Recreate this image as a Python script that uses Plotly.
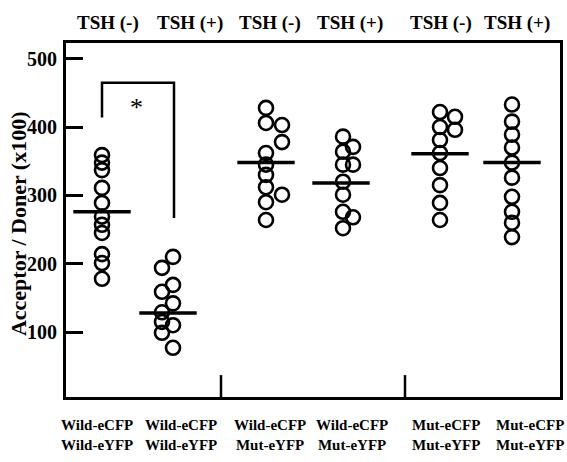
import plotly.graph_objects as go

# ---------------- data ----------------
pair_labels = ["Wild-eCFP<br>Wild-eYFP", "Wild-eCFP<br>Wild-eYFP", "Wild-eCFP<br>Mut-eYFP",
               "Wild-eCFP<br>Mut-eYFP", "Mut-eCFP<br>Mut-eYFP", "Mut-eCFP<br>Mut-eYFP"]
tsh_labels = ["TSH (-)", "TSH (+)", "TSH (-)", "TSH (+)", "TSH (-)", "TSH (+)"]

# values in the main column / in the side column of every group
g1_main = [359, 348, 337, 311, 289, 269, 257, 245, 214, 201, 178]
g1_side = []
g2_main = [210, 169, 142, 110, 77]
g2_side = [194, 159, 129, 115, 99]
g3_main = [428, 406, 362, 345, 330, 312, 290, 264]
g3_side = [403, 378, 301]
g4_main = [386, 364, 345, 320, 301, 276, 252]
g4_side = [371, 345, 268]
g5_main = [422, 400, 381, 362, 340, 315, 289, 264]
g5_side = [415, 396]
g6_main = [433, 408, 389, 370, 348, 326, 298, 276, 260, 239]
g6_side = []
group_means = [276, 128, 348, 318, 361, 348]

y_ticks = [100, 200, 300, 400, 500]

# ---------------- layout (positions / styles) ----------------
main_x = [102, 173, 266, 343, 440, 512]
side_x = [102, 162, 282, 353, 455, 512]
mean_x = [102, 168, 266, 341, 440, 512]
top_lbl_x = [108, 190, 270, 350, 441, 517]
bot_lbl_x = [97, 181, 270, 352, 446, 530]
sep_x = [221, 405]
X_RANGE = [66, 560]
Y_RANGE = [5, 523]

FONT = "Liberation Serif, Times New Roman, serif"
mains = [g1_main, g2_main, g3_main, g4_main, g5_main, g6_main]
sides = [g1_side, g2_side, g3_side, g4_side, g5_side, g6_side]

fig = go.Figure()
circle = dict(symbol="circle-open", size=14, color="black", line=dict(width=2.6, color="black"))
for i in range(6):
    xs = [main_x[i]] * len(mains[i]) + [side_x[i]] * len(sides[i])
    ys = mains[i] + sides[i]
    fig.add_trace(go.Scatter(x=xs, y=ys, mode="markers", marker=circle,
                             showlegend=False, hoverinfo="y"))

fig.add_trace(go.Scatter(x=mean_x, y=group_means, mode="markers",
                         marker=dict(symbol="line-ew", size=41, color="black",
                                     line=dict(width=3.5, color="black")),
                         showlegend=False, hoverinfo="y"))

shapes = []
for sx in sep_x:
    shapes.append(dict(type="line", xref="x", yref="y", x0=sx, x1=sx, y0=Y_RANGE[0], y1=37,
                       line=dict(color="black", width=2.5)))
# significance bracket between group 1 and 2
shapes.append(dict(type="path", xref="x", yref="y",
                   path=f"M {mean_x[0]},414 L {mean_x[0]},465 L 174,465 L 174,267",
                   line=dict(color="black", width=2.5)))

ann = []
for i in range(6):
    ann.append(dict(x=top_lbl_x[i], y=1.056, xref="x", yref="paper", text=tsh_labels[i],
                    showarrow=False, xanchor="center", yanchor="middle",
                    font=dict(family=FONT, size=19, color="black", weight="bold")))
    ann.append(dict(x=bot_lbl_x[i], y=-0.051, xref="x", yref="paper", text=pair_labels[i],
                    showarrow=False, yanchor="top", xanchor="center",
                    font=dict(family=FONT, size=15, color="black", weight="bold")))
ann.append(dict(x=136, y=428, xref="x", yref="y", text="*", showarrow=False,
                font=dict(family=FONT, size=26, color="black")))
ann.append(dict(x=-0.096, y=0.49, xref="paper", yref="paper", text="Acceptor / Doner (x100)",
                textangle=-90, showarrow=False, xanchor="center", yanchor="middle",
                font=dict(family=FONT, size=22, color="black", weight="bold")))

fig.update_layout(
    width=567, height=462,
    margin=dict(l=66, r=7, t=43, b=65),
    paper_bgcolor="white", plot_bgcolor="white",
    shapes=shapes, annotations=ann,
    xaxis=dict(range=X_RANGE, showgrid=False, zeroline=False, showticklabels=False,
               ticks="", showline=True, mirror=True, linecolor="black", linewidth=2.5,
               automargin=False),
    yaxis=dict(range=Y_RANGE, showgrid=False, zeroline=False, tickvals=y_ticks,
               ticks="inside", ticklen=17, tickwidth=3, tickcolor="black",
               showline=True, mirror=True, linecolor="black", linewidth=3,
               ticklabelstandoff=2, automargin=False,
               tickfont=dict(family=FONT, size=20, color="black", weight="bold")),
)

fig.write_html("out.html", config={"displayModeBar": False},
               post_script="document.body.style.margin='0';document.body.style.overflow='hidden';")
